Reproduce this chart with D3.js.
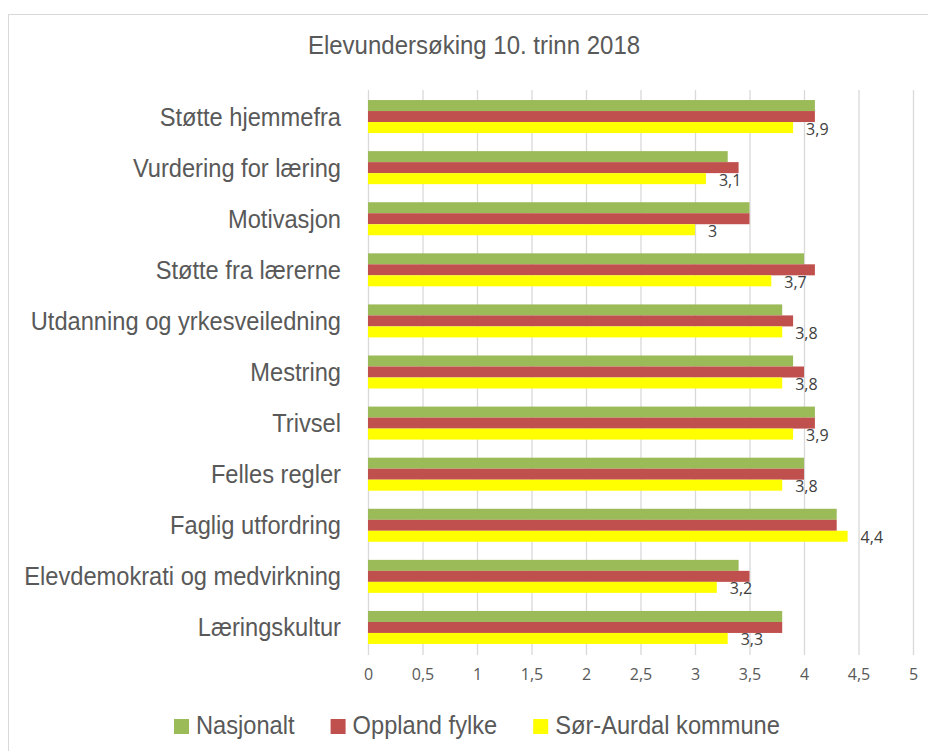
<!DOCTYPE html>
<html>
<head>
<meta charset="utf-8">
<script src="https://cdn.jsdelivr.net/npm/d3@7"></script>
<style>
  html, body { margin: 0; padding: 0; background: #fff; }
  svg { display: block; }
</style>
</head>
<body>
<svg id="chart"></svg>
<script>
const categories = [
    "Støtte hjemmefra",
    "Vurdering for læring",
    "Motivasjon",
    "Støtte fra lærerne",
    "Utdanning og yrkesveiledning",
    "Mestring",
    "Trivsel",
    "Felles regler",
    "Faglig utfordring",
    "Elevdemokrati og medvirkning",
    "Læringskultur"
];
const seriesNames = ["Nasjonalt", "Oppland fylke", "Sør-Aurdal kommune"];
const nasjonalt = [4.1, 3.3, 3.5, 4.0, 3.8, 3.9, 4.1, 4.0, 4.3, 3.4, 3.8];
const oppland   = [4.1, 3.4, 3.5, 4.1, 3.9, 4.0, 4.1, 4.0, 4.3, 3.5, 3.8];
const sorAurdal = [3.9, 3.1, 3.0, 3.7, 3.8, 3.8, 3.9, 3.8, 4.4, 3.2, 3.3];
const xTicks = [0, 0.5, 1, 1.5, 2, 2.5, 3, 3.5, 4, 4.5, 5];
const title = "Elevundersøking 10. trinn 2018";

const width = 928;
const height = 751;
const plot = { left: 368, right: 913, top: 91, bottom: 653 };

const svg = d3.select("#chart")
    .attr("width", width)
    .attr("height", height);

const colors = d3.scaleOrdinal()
    .domain(seriesNames)
    .range(["#9BBB59", "#C0504D", "#FFFF00"]);

const seriesValues = [nasjonalt, oppland, sorAurdal];
const rows = categories.map((c, i) => ({
    category: c,
    values: seriesNames.map((s, j) => ({ series: s, value: seriesValues[j][i] }))
}));

const fmt = v => d3.format("~g")(v).replace(".", ",");

// ramme
svg.append("rect")
    .attr("x", 8.5).attr("y", 14.5)
    .attr("width", width).attr("height", height)
    .attr("fill", "none")
    .attr("stroke", "#d9d9d9");

const x = d3.scaleLinear()
    .domain([0, 5])
    .range([plot.left, plot.right]);

const y = d3.scaleBand()
    .domain(categories)
    .range([plot.top, plot.bottom])
    .paddingInner(0.354)
    .paddingOuter(0.177);

const ySub = d3.scaleBand()
    .domain(seriesNames)
    .range([0, y.bandwidth()]);

// rutenett + akse
const xAxis = svg.append("g")
    .attr("transform", `translate(0, ${plot.bottom + 2})`)
    .call(d3.axisBottom(x).tickValues(xTicks).tickSize(-(plot.bottom + 2 - 90)).tickFormat(fmt).tickPadding(14));
xAxis.select(".domain").remove();
xAxis.selectAll(".tick line").attr("stroke", "#d9d9d9").attr("stroke-width", 1.3);
xAxis.selectAll(".tick text")
    .attr("fill", "#595959")
    .style("font-family", "'Open Sans', sans-serif")
    .style("font-size", "16px");

// tittel
svg.append("text")
    .attr("transform", `translate(474, 54) scale(0.96, 1)`)
    .attr("text-anchor", "middle")
    .attr("fill", "#595959")
    .style("font-family", "'Liberation Sans', Arial, sans-serif")
    .style("font-size", "25px")
    .text(title);

// kategorinavn
svg.append("g").selectAll("text")
    .data(categories)
    .join("text")
    .attr("transform", d => `translate(341, ${y(d) + y.bandwidth() / 2 + 9}) scale(0.91, 1)`)
    .attr("text-anchor", "end")
    .attr("fill", "#595959")
    .style("font-family", "'Liberation Sans', Arial, sans-serif")
    .style("font-size", "26px")
    .text(d => d);

// stolper
const groups = svg.append("g").selectAll("g")
    .data(rows)
    .join("g")
    .attr("transform", d => `translate(0, ${y(d.category)})`);

groups.selectAll("rect")
    .data(d => d.values)
    .join("rect")
    .attr("x", x(0))
    .attr("y", d => ySub(d.series))
    .attr("width", d => x(d.value) - x(0))
    .attr("height", ySub.bandwidth())
    .attr("fill", d => colors(d.series));

// dataetiketter (Sør-Aurdal)
groups.append("text")
    .attr("x", d => x(d.values[2].value) + 13)
    .attr("y", ySub(seriesNames[2]) + ySub.bandwidth() / 2 + 7)
    .attr("fill", "#404040")
    .style("font-family", "'Open Sans', sans-serif")
    .style("font-size", "16px")
    .text(d => fmt(d.values[2].value));

// legende
const legend = svg.append("g");
let lx = 174;
seriesNames.forEach(s => {
    legend.append("rect")
        .attr("x", lx).attr("y", 719)
        .attr("width", 15).attr("height", 15)
        .attr("fill", colors(s));
    const t = legend.append("text")
        .attr("transform", `translate(${lx + 22}, 734) scale(0.91, 1)`)
        .attr("fill", "#595959")
        .style("font-family", "'Liberation Sans', Arial, sans-serif")
        .style("font-size", "26px")
        .text(s);
    lx += 22 + t.node().getComputedTextLength() * 0.91 + 36;
});
</script>
</body>
</html>
